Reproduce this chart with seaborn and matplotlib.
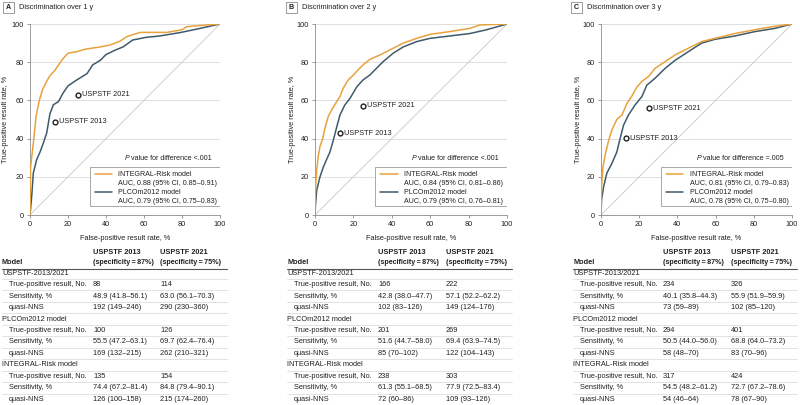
import matplotlib
matplotlib.use("Agg")
import matplotlib.pyplot as plt
from matplotlib.patches import Rectangle
import pandas as pd
import seaborn as sns

# Panel text
PANEL_LETTERS = ["A", "B", "C"]
TITLES = ["Discrimination over 1 y", "Discrimination over 2 y", "Discrimination over 3 y"]
P_VALUES = ["<.001", "<.001", "=.005"]
AUC_INTEGRAL = ["0.88 (95% CI, 0.85–0.91)", "0.84 (95% CI, 0.81–0.86)", "0.81 (95% CI, 0.79–0.83)"]
AUC_PLCO = ["0.79 (95% CI, 0.75–0.83)", "0.79 (95% CI, 0.76–0.81)", "0.78 (95% CI, 0.75–0.80)"]

# ROC curves (false-positive %, true-positive %)
A_INT_FPR = [0, 0.3, 1.75, 3.2, 4.9, 6.7, 8.8, 10.5, 13, 15, 17.5, 20, 24.6, 29, 37, 42, 47, 51, 58, 72, 80, 82.5, 93, 100]
A_INT_TPR = [0, 25, 37.6, 51.6, 60, 66, 70, 73, 75.6, 78.5, 82, 84.7, 85.5, 86.8, 88, 89, 90.8, 93.4, 95.6, 95.6, 97, 98.6, 99.5, 100]
A_PLCO_FPR = [0, 0.9, 1.75, 3.5, 5.3, 7, 8.8, 10.5, 12.3, 15, 17.5, 20, 24.6, 30, 33, 37, 40, 45, 49, 54, 61, 68, 79, 89.5, 100]
A_PLCO_TPR = [0, 9.8, 22, 29, 33, 37.6, 43, 53, 57.7, 59.4, 64, 67.6, 70.7, 74, 78.6, 81, 84, 86.4, 88, 91.6, 93, 93.7, 95.5, 97.7, 100]

B_INT_FPR = [0, 0.3, 0.9, 1.7, 2.6, 4, 5.2, 6.9, 8.7, 11.3, 13, 14.7, 17.3, 20, 22.5, 25, 28.6, 33.8, 40.7, 46, 53, 60, 70, 80.6, 85.8, 100]
B_INT_TPR = [0, 15, 23.7, 30.7, 35.9, 40, 45.5, 51.6, 55, 59.4, 62, 66.4, 70.7, 73.3, 76, 78.6, 81.5, 83.8, 87.3, 90, 92.5, 94.6, 96, 97.7, 99.5, 100]
B_PLCO_FPR = [0, 0.3, 0.9, 2.6, 4.3, 6, 7.8, 9.5, 11.3, 13, 15.6, 18.2, 21.7, 25, 28.6, 32, 35.5, 40.7, 46, 53, 60, 70, 80.6, 89, 100]
B_PLCO_TPR = [0, 6, 13, 20, 25, 29, 33, 39, 46, 52.4, 57.7, 61, 67, 70.7, 73.3, 76.8, 80.3, 84.7, 88, 90.8, 92.5, 93.7, 95, 96.9, 100]

C_INT_FPR = [0, 0.3, 1, 2.3, 4, 5.7, 8.3, 11, 13.6, 16, 18.8, 21.4, 24.9, 28.3, 33.6, 38.8, 45.7, 52.7, 59.7, 70, 80.5, 91, 100]
C_INT_TPR = [0, 15, 25, 32, 39, 44.6, 50, 52.4, 58.5, 62, 67, 70, 72.5, 76.8, 80.3, 83.8, 87.3, 90.8, 92.5, 95, 97, 98.8, 100]
C_PLCO_FPR = [0, 0.3, 1.4, 3.1, 5.7, 8.3, 10, 11.8, 14.4, 17.9, 21.4, 24, 28.3, 33.6, 38.8, 45.7, 52.7, 59.7, 70, 80.5, 91, 100]
C_PLCO_TPR = [0, 8, 15, 22, 27, 33, 40, 47, 52.4, 57.7, 62, 68, 71.6, 76.8, 81, 85.5, 90, 92, 93.7, 96, 97.7, 100]

# USPSTF criteria
USPSTF_NAMES = ["USPSTF 2013", "USPSTF 2021"]
USPSTF_SPECIFICITY = [87, 75]

# Tables (values per column, rows in ROW_LABELS order)
SECTIONS = ["USPSTF-2013/2021", "PLCOm2012 model", "INTEGRAL-Risk model"]
ROW_LABELS = ["True-positive result, No.", "Sensitivity, %", "quasi-NNS"]
A_2013 = ["88", "48.9 (41.8-56.1)", "192 (149-246)", "100", "55.5 (47.2-63.1)", "169 (132-215)", "135", "74.4 (67.2-81.4)", "126 (100-158)"]
A_2021 = ["114", "63.0 (56.1-70.3)", "290 (230-360)", "126", "69.7 (62.4-76.4)", "262 (210-321)", "154", "84.8 (79.4-90.1)", "215 (174-260)"]
B_2013 = ["166", "42.8 (38.0-47.7)", "102 (83-126)", "201", "51.6 (44.7-58.0)", "85 (70-102)", "238", "61.3 (55.1-68.5)", "72 (60-86)"]
B_2021 = ["222", "57.1 (52.2-62.2)", "149 (124-176)", "269", "69.4 (63.9-74.5)", "122 (104-143)", "303", "77.9 (72.5-83.4)", "109 (93-126)"]
C_2013 = ["234", "40.1 (35.8-44.3)", "73 (59-89)", "294", "50.5 (44.0-56.0)", "58 (48-70)", "317", "54.5 (48.2-61.2)", "54 (46-64)"]
C_2021 = ["326", "55.9 (51.9-59.9)", "102 (85-120)", "401", "68.8 (64.0-73.2)", "83 (70-96)", "424", "72.7 (67.2-78.6)", "78 (67-90)"]

ORANGE = "#e9a23b"
SLATE = "#3f5a6b"
TXT = "#231f20"
GRID = "#d9d9d9"

sns.set_theme(style="white")
plt.rcParams["font.family"] = ["Liberation Sans", "DejaVu Sans"]
FS = 5.1      # legend / p value
FS_TAB = 5.3  # table
FS_AX = 5.3   # ticks, axis labels, annotations

W, H = 800, 405
fig = plt.figure(figsize=(W / 100, H / 100), dpi=100)


def fx(x):
    return x / W


def fy(y):
    return 1 - y / H


curves = [
    (A_INT_FPR, A_INT_TPR, A_PLCO_FPR, A_PLCO_TPR),
    (B_INT_FPR, B_INT_TPR, B_PLCO_FPR, B_PLCO_TPR),
    (C_INT_FPR, C_INT_TPR, C_PLCO_FPR, C_PLCO_TPR),
]
tables = [(A_2013, A_2021), (B_2013, B_2021), (C_2013, C_2021)]

# pixel layout per panel: axis left/right, label box x, table columns
ax_lr = [(30, 220), (315, 507), (601, 792)]
box_x = [3, 286, 571]
ylab_x = [6, 292, 578]
tab_cols = [(2, 9, 93, 160, 227), (287, 294, 378, 446, 512), (573, 580, 663, 731, 797)]
AX_TOP, AX_BOT = 24, 215

for i in range(3):
    l, r = ax_lr[i]
    ax = fig.add_axes([fx(l), fy(AX_BOT), (r - l) / W, (AX_BOT - AX_TOP) / H])
    int_fpr, int_tpr, plco_fpr, plco_tpr = curves[i]
    df = pd.concat([
        pd.DataFrame({"fpr": plco_fpr, "tpr": plco_tpr, "model": "PLCOm2012"}),
        pd.DataFrame({"fpr": int_fpr, "tpr": int_tpr, "model": "INTEGRAL-Risk"}),
    ])
    ax.axline((0, 0), slope=1, color="#c8c8c8", lw=0.6, zorder=1)
    sns.lineplot(data=df, x="fpr", y="tpr", hue="model", sort=False, estimator=None,
                 palette={"INTEGRAL-Risk": ORANGE, "PLCOm2012": SLATE},
                 hue_order=["PLCOm2012", "INTEGRAL-Risk"], lw=1.1, legend=False, ax=ax, zorder=3)

    # USPSTF points
    sens = [float(tables[i][0][1].split()[0]), float(tables[i][1][1].split()[0])]
    pts = pd.DataFrame({"fpr": [100 - s for s in USPSTF_SPECIFICITY], "tpr": sens, "name": USPSTF_NAMES})
    sns.scatterplot(data=pts, x="fpr", y="tpr", marker="o", s=12, facecolor="white",
                    edgecolor=TXT, linewidth=1.0, ax=ax, zorder=5)
    for _, row in pts.iterrows():
        ax.annotate(row["name"], (row["fpr"], row["tpr"]), xytext=(3, 0), textcoords="offset points",
                    ha="left", va="center", fontsize=FS_AX, color=TXT)

    ax.set_xlim(0, 100)
    ax.set_ylim(0, 100)
    ax.set_xticks(range(0, 101, 20))
    ax.set_yticks(range(0, 101, 20))
    ax.yaxis.grid(True, color=GRID, lw=0.6)
    ax.set_axisbelow(True)
    for s in ["top", "right"]:
        ax.spines[s].set_visible(False)
    for s in ["left", "bottom"]:
        ax.spines[s].set_color("#8c8c8c")
        ax.spines[s].set_linewidth(0.6)
    ax.tick_params(axis="both", which="both", direction="out", length=2.5, width=0.6,
                   color="#8c8c8c", labelsize=FS_AX, labelcolor=TXT, pad=2, bottom=True, left=True)
    ax.set_xlabel("False-positive result rate, %", fontsize=FS_AX, color=TXT, labelpad=5)
    ax.set_ylabel("")
    fig.text(fx(ylab_x[i]), fy((AX_TOP + AX_BOT) / 2), "True-positive result rate, %", rotation=90,
             ha="center", va="center", fontsize=FS_AX, color=TXT)

    # P value text (italic P placed just left of the rest)
    ptxt = ax.text(95.5, 29.5, "value for difference " + P_VALUES[i], ha="right", va="center",
                   fontsize=FS, color=TXT)
    fig.canvas.draw()
    bb = ptxt.get_window_extent().transformed(ax.transData.inverted())
    ax.text(bb.x0 - 0.8, 29.5, "P", ha="right", va="center", fontsize=FS, color=TXT, style="italic")

    # legend box
    ax.add_patch(Rectangle((31.5, 4.7), 68.3, 20.3, transform=ax.transData, fill=True,
                           facecolor="white", edgecolor="#9a9a9a", lw=0.6, zorder=6))
    ax.plot([34, 43], [21.3, 21.3], color=ORANGE, lw=1.1, zorder=7)
    ax.plot([34, 43], [11.8, 11.8], color=SLATE, lw=1.1, zorder=7)
    ax.text(46.5, 21.3, "INTEGRAL-Risk model", fontsize=FS, color=TXT, va="center", zorder=7)
    ax.text(46.5, 16.6, "AUC, " + AUC_INTEGRAL[i], fontsize=FS, color=TXT, va="center", zorder=7)
    ax.text(46.5, 11.8, "PLCOm2012 model", fontsize=FS, color=TXT, va="center", zorder=7)
    ax.text(46.5, 7.1, "AUC, " + AUC_PLCO[i], fontsize=FS, color=TXT, va="center", zorder=7)

    # panel label box and title
    bx = box_x[i]
    fig.patches.append(Rectangle((fx(bx), fy(13)), 11 / W, 11 / H, transform=fig.transFigure,
                                 facecolor="white", edgecolor="#8c8c8c", lw=0.6))
    fig.text(fx(bx + 5.5), fy(7.5), PANEL_LETTERS[i], ha="center", va="center", fontsize=FS,
             weight="bold", color=TXT)
    fig.text(fx(bx + 16), fy(7.5), TITLES[i], ha="left", va="center", fontsize=FS_AX, color=TXT)

    # table
    x0, xin, xc1, xc2, xend = tab_cols[i]
    col13, col21 = tables[i]
    fig.text(fx(xc1), fy(253), "USPSTF 2013", fontsize=FS_TAB, weight="bold", color=TXT, va="center")
    fig.text(fx(xc1), fy(263), "(specificity\u2009=\u200987%)", fontsize=FS_TAB - 0.2, weight="bold", color=TXT, va="center")
    fig.text(fx(xc2), fy(253), "USPSTF 2021", fontsize=FS_TAB, weight="bold", color=TXT, va="center")
    fig.text(fx(xc2), fy(263), "(specificity\u2009=\u200975%)", fontsize=FS_TAB - 0.2, weight="bold", color=TXT, va="center")
    fig.text(fx(x0), fy(263), "Model", fontsize=FS_TAB, weight="bold", color=TXT, va="center")
    fig.add_artist(plt.Line2D([fx(x0), fx(xend)], [fy(268.8), fy(268.8)], color="#555555", lw=0.8))
    step = 11.45
    y = 273.3
    k = 0
    for s, sec in enumerate(SECTIONS):
        fig.text(fx(x0), fy(y), sec, fontsize=FS_TAB, color=TXT, va="center")
        fig.add_artist(plt.Line2D([fx(x0), fx(xend)], [fy(y + step / 2)] * 2, color="#dddddd", lw=0.6))
        y += step
        for lab in ROW_LABELS:
            fig.text(fx(xin), fy(y), lab, fontsize=FS_TAB, color=TXT, va="center")
            fig.text(fx(xc1), fy(y), col13[k].replace("-", "–"), fontsize=FS_TAB, color=TXT, va="center")
            fig.text(fx(xc2), fy(y), col21[k].replace("-", "–"), fontsize=FS_TAB, color=TXT, va="center")
            if not (s == 2 and lab == ROW_LABELS[-1]):
                fig.add_artist(plt.Line2D([fx(x0), fx(xend)], [fy(y + step / 2)] * 2, color="#dddddd", lw=0.6))
            y += step
            k += 1

fig.savefig("out.png", dpi=100)
